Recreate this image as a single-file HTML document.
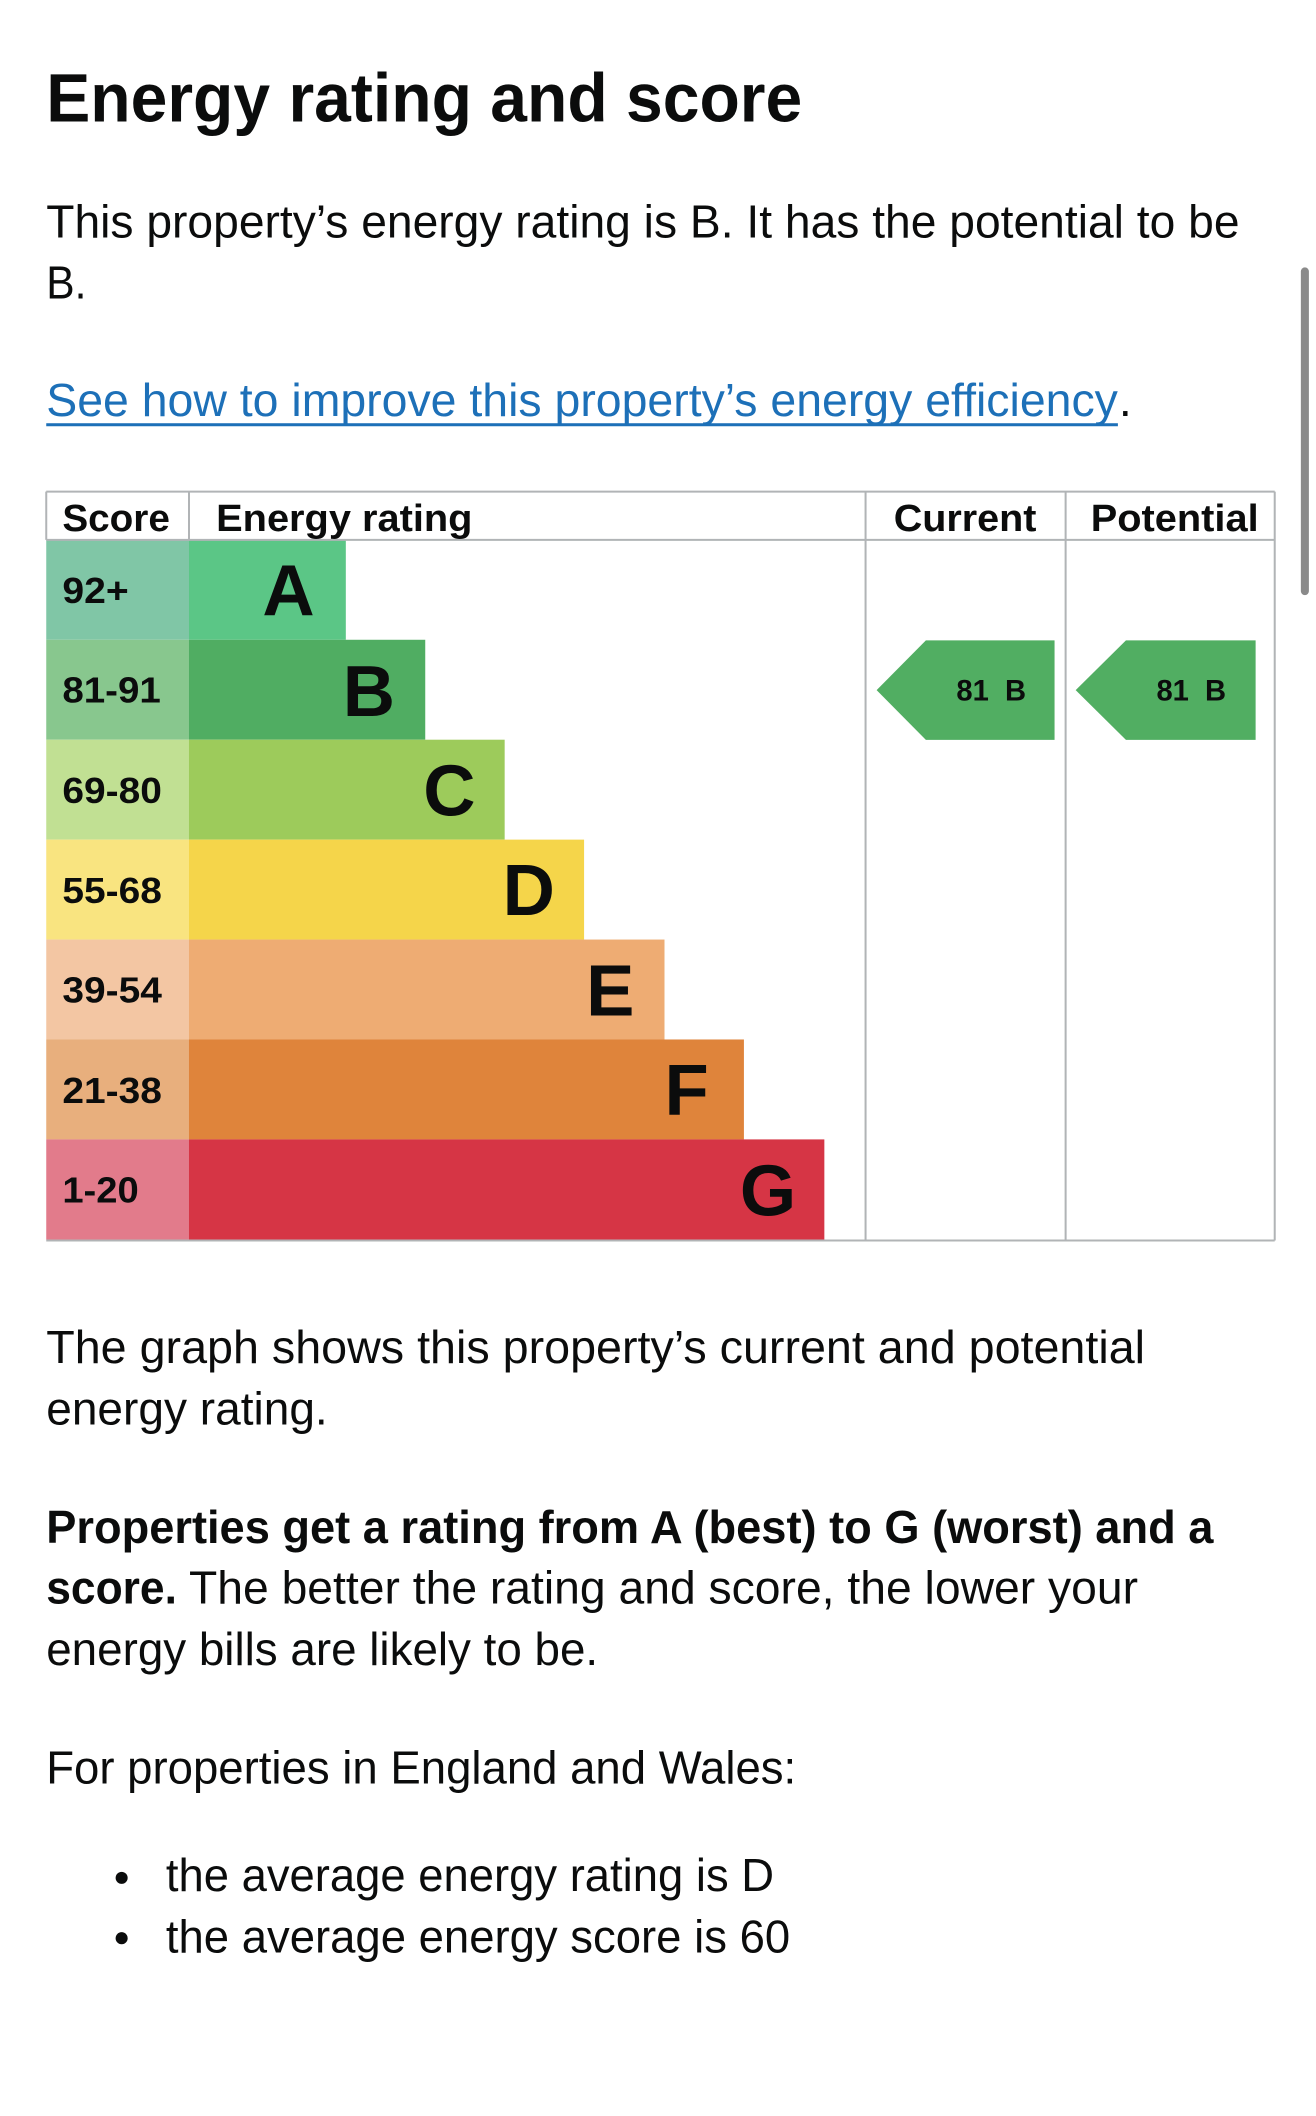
<!DOCTYPE html>
<html><head><meta charset="utf-8"><style>html,body{margin:0;padding:0;background:#fff}svg{display:block}</style></head>
<body>
<svg width="1316" height="2116" viewBox="0 0 1316 2116" xmlns="http://www.w3.org/2000/svg" font-family="Liberation Sans, Arial, sans-serif" fill="#0b0c0c">
<rect width="1316" height="2116" fill="#fff"/>
<g transform="scale(1.0053)">
<rect x="1294" y="266" width="8" height="326" rx="4" fill="#8a8a8a"/>
<text x="46" y="121" font-size="68" font-weight="bold" textLength="752" lengthAdjust="spacingAndGlyphs">Energy rating and score</text>
<text x="46" y="236" font-size="46" textLength="1187" lengthAdjust="spacingAndGlyphs">This property’s energy rating is B. It has the potential to be</text>
<text x="46" y="297" font-size="46" textLength="40" lengthAdjust="spacingAndGlyphs">B.</text>
<text x="46" y="414" font-size="46" fill="#1d70b8" textLength="1066" lengthAdjust="spacingAndGlyphs">See how to improve this property’s energy efficiency</text>
<rect x="46" y="421" width="1066" height="3" fill="#1d70b8"/>
<text x="1113" y="414" font-size="46">.</text>

<g>
<rect x="46" y="537" width="142" height="99.4" fill="#80c6a6"/>
<rect x="46" y="636.4" width="142" height="99.4" fill="#88c78e"/>
<rect x="46" y="735.8" width="142" height="99.4" fill="#c1e093"/>
<rect x="46" y="835.2" width="142" height="99.4" fill="#f9e480"/>
<rect x="46" y="934.6" width="142" height="99.4" fill="#f3c6a3"/>
<rect x="46" y="1034" width="142" height="99.4" fill="#e8af7d"/>
<rect x="46" y="1133.4" width="142" height="99.6" fill="#e27b8b"/>
<rect x="188" y="537" width="156" height="99.4" fill="#5bc686"/>
<rect x="188" y="636.4" width="235" height="99.4" fill="#50ad62"/>
<rect x="188" y="735.8" width="314" height="99.4" fill="#9dcb5b"/>
<rect x="188" y="835.2" width="393" height="99.4" fill="#f5d54a"/>
<rect x="188" y="934.6" width="473" height="99.4" fill="#eeac73"/>
<rect x="188" y="1034" width="552" height="99.4" fill="#df843b"/>
<rect x="188" y="1133.4" width="632" height="99.6" fill="#d63545"/>
</g>
<g stroke="#b1b4b6" stroke-width="2" fill="none">
<line x1="46" y1="489" x2="1268" y2="489"/>
<line x1="46" y1="537" x2="1268" y2="537"/>
<line x1="46" y1="1234" x2="1268" y2="1234"/>
<line x1="1268" y1="489" x2="1268" y2="1234"/>
<line x1="861" y1="489" x2="861" y2="1234"/>
<line x1="1060" y1="489" x2="1060" y2="1234"/>
<line x1="46" y1="489" x2="46" y2="537"/>
<line x1="188" y1="489" x2="188" y2="537"/>
</g>
<g font-weight="bold" font-size="38">
<text x="62" y="528" textLength="107" lengthAdjust="spacingAndGlyphs">Score</text>
<text x="215" y="528" textLength="255" lengthAdjust="spacingAndGlyphs">Energy rating</text>
<text x="889" y="528" textLength="142" lengthAdjust="spacingAndGlyphs">Current</text>
<text x="1085" y="528" textLength="167" lengthAdjust="spacingAndGlyphs">Potential</text>
</g>
<g font-weight="bold" font-size="36">
<text x="62" y="600" textLength="66" lengthAdjust="spacingAndGlyphs">92+</text>
<text x="62" y="699" textLength="98" lengthAdjust="spacingAndGlyphs">81-91</text>
<text x="62" y="799" textLength="99" lengthAdjust="spacingAndGlyphs">69-80</text>
<text x="62" y="898" textLength="99" lengthAdjust="spacingAndGlyphs">55-68</text>
<text x="62" y="997" textLength="99" lengthAdjust="spacingAndGlyphs">39-54</text>
<text x="62" y="1097" textLength="99" lengthAdjust="spacingAndGlyphs">21-38</text>
<text x="62" y="1196" textLength="76" lengthAdjust="spacingAndGlyphs">1-20</text>
</g>
<g font-weight="bold" font-size="72" text-anchor="end">
<text x="313" y="612">A</text>
<text x="393" y="712">B</text>
<text x="473" y="811">C</text>
<text x="552" y="910">D</text>
<text x="631" y="1010">E</text>
<text x="705" y="1109">F</text>
<text x="792" y="1209">G</text>
</g>
<polygon points="872,686.5 921,637 1049,637 1049,736 921,736" fill="#51ae62"/>
<polygon points="1070,686.5 1120,637 1249,637 1249,736 1120,736" fill="#51ae62"/>
<g font-weight="bold" font-size="29" text-anchor="middle">
<text x="986" y="697" xml:space="preserve">81  B</text>
<text x="1185" y="697" xml:space="preserve">81  B</text>
</g>

<text x="46" y="1356" font-size="46" textLength="1093" lengthAdjust="spacingAndGlyphs">The graph shows this property’s current and potential</text>
<text x="46" y="1417" font-size="46" textLength="280" lengthAdjust="spacingAndGlyphs">energy rating.</text>
<text x="46" y="1535" font-size="46" font-weight="bold" textLength="1161" lengthAdjust="spacingAndGlyphs">Properties get a rating from A (best) to G (worst) and a</text>
<text x="46" y="1595" font-size="46" font-weight="bold" textLength="130" lengthAdjust="spacingAndGlyphs">score.</text>
<text x="188" y="1595" font-size="46" textLength="944" lengthAdjust="spacingAndGlyphs">The better the rating and score, the lower your</text>
<text x="46" y="1656" font-size="46" textLength="549" lengthAdjust="spacingAndGlyphs">energy bills are likely to be.</text>
<text x="46" y="1774" font-size="46" textLength="746" lengthAdjust="spacingAndGlyphs">For properties in England and Wales:</text>
<circle cx="121" cy="1868" r="6"/>
<circle cx="121" cy="1928" r="6"/>
<text x="165" y="1881" font-size="46" textLength="605" lengthAdjust="spacingAndGlyphs">the average energy rating is D</text>
<text x="165" y="1942" font-size="46" textLength="621" lengthAdjust="spacingAndGlyphs">the average energy score is 60</text>
</g>
</svg>
</body></html>
